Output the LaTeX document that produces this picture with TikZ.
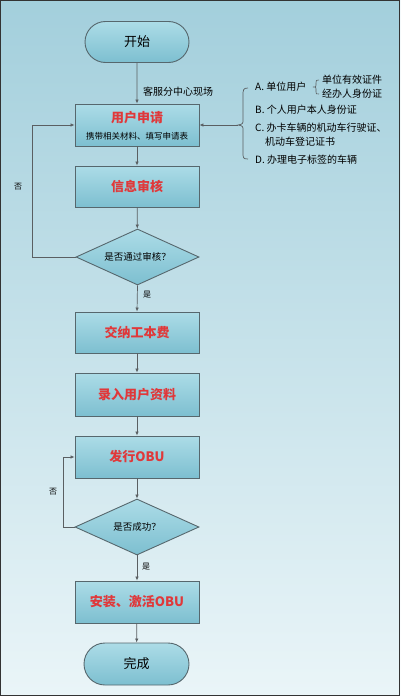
\documentclass[tikz,border=0pt]{standalone}
\usepackage{fontspec}
\setmainfont{Noto Sans CJK SC}
\usetikzlibrary{shapes.geometric,shapes.misc,arrows.meta,decorations.pathreplacing,calc}
\definecolor{bgtop}{HTML}{A3CFDC}
\definecolor{bgbot}{HTML}{EAF5F8}
\definecolor{boxtop}{HTML}{ACDCE7}
\definecolor{boxbot}{HTML}{7DBFD0}
\definecolor{edge}{HTML}{56676D}
\definecolor{redtxt}{HTML}{E0383A}
\definecolor{linec}{HTML}{5A5F62}
\tikzset{
  procbox/.style={draw=edge, line width=0.9pt, top color=boxtop, bottom color=boxbot,
    minimum width=124pt, minimum height=42pt, inner sep=0pt, font=\fontsize{13}{15}\selectfont\bfseries, text=redtxt},
  termbox/.style={draw=edge, line width=0.9pt, top color=boxtop, bottom color=boxbot,
    rounded rectangle, minimum width=104pt, minimum height=41pt, inner sep=0pt, font=\fontsize{13}{15}\selectfont},
  decbox/.style={draw=edge, line width=0.9pt, top color=boxtop, bottom color=boxbot,
    diamond, aspect=2.2, minimum width=123pt, minimum height=56pt, inner sep=0pt, font=\fontsize{9.5}{11}\selectfont},
  conn/.style={draw=linec, line width=0.7pt, -{Latex[length=4pt,width=3.5pt]}},
  lbl/.style={font=\fontsize{8}{10}\selectfont, inner sep=0pt},
  note/.style={font=\fontsize{10}{12}\selectfont, inner sep=0pt, anchor=west},
}
\begin{document}
\begin{tikzpicture}[x=1pt,y=-1pt]
\useasboundingbox (0,0) rectangle (400,696);
\shade[top color=bgtop, bottom color=bgbot] (0,0) rectangle (400,696);
\draw[draw=black!80, line width=1.2pt] (0.6,0.6) rectangle (399.4,695.4);

\node[termbox] (start) at (137,42) {开始};
\node[procbox, minimum height=42pt] (apply) at (137,125) {};
\node[font=\fontsize{13}{15}\selectfont\bfseries, text=redtxt, inner sep=0pt] (applyt) at (137,118) {用户申请};
\node[font=\fontsize{8.5}{10}\selectfont, inner sep=0pt] (applys) at (137,136) {携带相关材料、填写申请表};
\node[procbox, minimum height=41pt] (review) at (137,186.5) {信息审核};
\node[decbox] (pass) at (137.5,257) {是否通过审核？};
\node[procbox, minimum height=41pt] (fee) at (137,332.5) {交纳工本费};
\node[procbox, minimum height=43pt] (input) at (137,394.5) {录入用户资料};
\node[procbox, minimum height=42pt] (issue) at (137,457) {发行OBU};
\node[decbox, minimum width=124pt] (succ) at (137,527) {是否成功？};
\node[procbox, minimum height=42pt] (install) at (137,602) {安装、激活OBU};
\node[termbox, minimum width=105pt, minimum height=42pt] (done) at (136.5,664) {完成};

\draw[conn] (start) -- (apply);
\node[note] (site) at (143,92) {客服分中心现场};
\draw[conn] (apply) -- (review);
\draw[conn] (review) -- (pass);
\draw[conn] (pass.south) -- (fee.north);
\node[lbl] (yes1) at (147,295) {是};
\draw[conn] (fee) -- (input);
\draw[conn] (input) -- (issue);
\draw[conn] (issue) -- (succ);
\draw[conn] (succ.south) -- (install.north);
\node[lbl] (yes2) at (146,567) {是};
\draw[conn] (install) -- (done);

\coordinate (loop1) at (32,125);
\draw[conn] (pass.west) -| (loop1) -- (apply.west);
\node[lbl] (no1) at (18,187) {否};
\coordinate (loop2) at (63,457);
\draw[conn] (succ.west) -| (loop2) -- (issue.west);
\node[lbl] (no2) at (53,492) {否};

% right-side notes
\coordinate (btip) at (238,125);
\draw[conn] (btip) -- (apply.east);
\draw[linec, line width=0.7pt] (248,88) .. controls (243,88) and (243,90) .. (243,96)
  -- (243,119) .. controls (243,124) .. (238,125) .. controls (243,126) .. (243,131)
  -- (243,152) .. controls (243,158) and (243,159) .. (248,159);
\node[note] (na) at (255,87) {A. 单位用户};
\draw[linec, line width=0.6pt] (319,80) .. controls (316,80) .. (316,83)
  -- (316,85) .. controls (316,87) .. (313,87) .. controls (316,87) .. (316,89)
  -- (316,92) .. controls (316,94) .. (319,94);
\node[note] (na1) at (322,80) {单位有效证件};
\node[note] (na2) at (322,94) {经办人身份证};
\node[note] (nb) at (255,110) {B. 个人用户本人身份证};
\node[note] (nc) at (255,128) {C. 办卡车辆的机动车行驶证、};
\node[note] (nc2) at (265,142) {机动车登记证书};
\node[note] (nd) at (255,160) {D. 办理电子标签的车辆};
\end{tikzpicture}
\end{document}
